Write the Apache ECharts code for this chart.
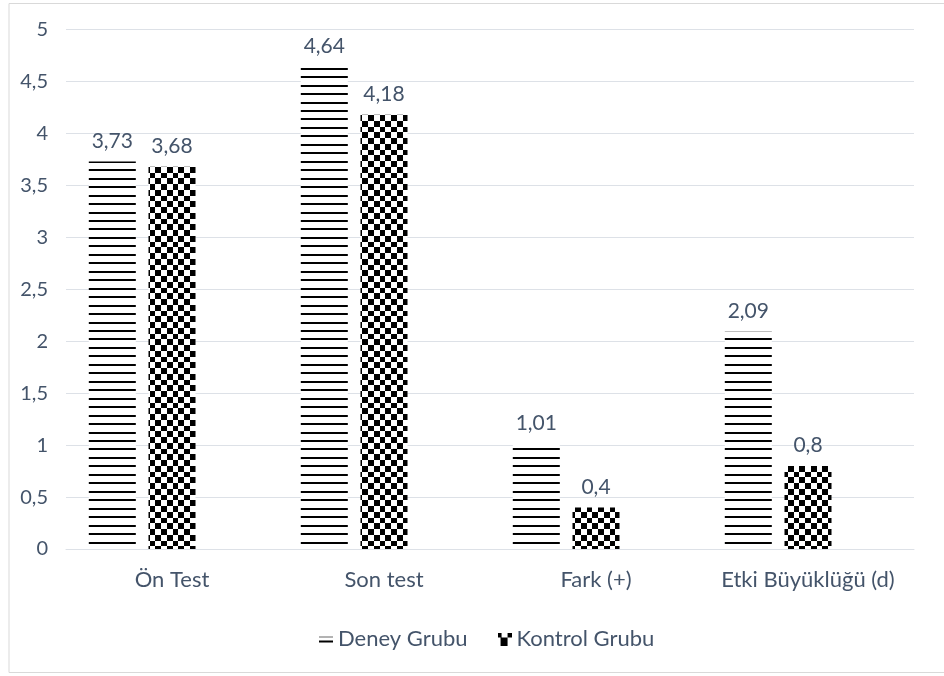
<!DOCTYPE html>
<html>
<head>
<meta charset="utf-8">
<script src="https://cdn.jsdelivr.net/npm/echarts@6/dist/echarts.min.js"></script>
<style>
  html, body { margin: 0; padding: 0; background: #fff; }
  #chart { width: 944px; height: 676px; }
</style>
</head>
<body>
<div id="chart"></div>
<script>
// Categories and group means
const categories = ['Ön Test', 'Son test', 'Fark (+)', 'Etki Büyüklüğü (d)'];
const deneyValues = [3.73, 4.64, 1.01, 2.09];
const kontrolValues = [3.68, 4.18, 0.4, 0.8];
const seriesNames = ['Deney Grubu', 'Kontrol Grubu'];
const yTicks = { min: 0, max: 5, step: 0.5 };

const TEXT = '#44546a';
const GRID = '#dde1e7';
const FONT = 'Lato, "Open Sans", sans-serif';

// Horizontal-stripe fill
function stripeCanvas() {
  const period = 8.47, n = 13;
  const h = Math.round(period * n);
  const c = document.createElement('canvas');
  c.width = 8; c.height = h;
  const g = c.getContext('2d');
  g.fillStyle = '#fff'; g.fillRect(0, 0, 8, h);
  g.fillStyle = '#000';
  for (let i = 0; i < n; i++) g.fillRect(0, Math.round(i * period), 8, 2);
  return c;
}
// Checkerboard fill
function checkerCanvas() {
  const cell = 5.75, n = 8;
  const s = Math.round(cell * n);
  const c = document.createElement('canvas');
  c.width = s; c.height = s;
  const g = c.getContext('2d');
  g.fillStyle = '#fff'; g.fillRect(0, 0, s, s);
  g.fillStyle = '#000';
  for (let i = 0; i < n; i++) {
    for (let j = 0; j < n; j++) {
      if ((i + j) % 2 === 0) {
        const x0 = Math.round(i * cell), x1 = Math.round((i + 1) * cell);
        const y0 = Math.round(j * cell), y1 = Math.round((j + 1) * cell);
        g.fillRect(x0, y0, x1 - x0, y1 - y0);
      }
    }
  }
  return c;
}
// Small legend glyphs
function deneyIcon() {
  const c = document.createElement('canvas');
  c.width = 14; c.height = 13;
  const g = c.getContext('2d');
  g.fillStyle = '#666'; g.fillRect(0, 4, 14, 1);
  g.fillStyle = '#000'; g.fillRect(0, 8, 14, 2);
  return 'image://' + c.toDataURL();
}
function kontrolIcon() {
  const c = document.createElement('canvas');
  c.width = 14; c.height = 13;
  const g = c.getContext('2d');
  g.fillStyle = '#000';
  g.fillRect(0, 0, 4, 5);
  g.fillRect(10, 0, 4, 5);
  g.fillRect(3, 5, 7, 8);
  return 'image://' + c.toDataURL();
}

const stripeFill = { image: stripeCanvas(), repeat: 'repeat' };
const checkerFill = { image: checkerCanvas(), repeat: 'repeat' };

const fmt = v => String(v).replace('.', ',');

const labelStyle = {
  show: true, position: 'top', distance: 10,
  color: TEXT, fontSize: 21, fontFamily: FONT,
  formatter: p => fmt(p.value)
};

const chart = echarts.init(document.getElementById('chart'), null, { renderer: 'canvas' });
chart.setOption({
  backgroundColor: '#fff',
  animation: false,
  graphic: [{
    type: 'rect', silent: true,
    shape: { x: 9, y: 3.5, width: 960, height: 669 },
    style: { fill: 'none', stroke: '#d9d9d9', lineWidth: 1 }
  }],
  grid: { left: 66, right: 30, top: 29.5, bottom: 127, containLabel: false },
  legend: {
    left: 314, top: 623,
    itemGap: 30, itemWidth: 14, itemHeight: 13,
    textStyle: { color: TEXT, fontSize: 22, fontFamily: FONT },
    data: [
      { name: seriesNames[0], icon: deneyIcon() },
      { name: seriesNames[1], icon: kontrolIcon() }
    ]
  },
  xAxis: {
    type: 'category', data: categories,
    axisLine: { lineStyle: { color: GRID } },
    axisTick: { show: false },
    axisLabel: { color: TEXT, fontSize: 22, fontFamily: FONT, margin: 20, interval: 0, hideOverlap: false }
  },
  yAxis: {
    type: 'value', min: yTicks.min, max: yTicks.max, interval: yTicks.step,
    axisLine: { show: false }, axisTick: { show: false },
    splitLine: { lineStyle: { color: GRID, width: 1 } },
    axisLabel: { color: TEXT, fontSize: 20, fontFamily: FONT, margin: 18, formatter: v => fmt(v) }
  },
  series: [
    { name: seriesNames[0], type: 'bar', data: deneyValues, barWidth: 47, barGap: '27%',
      itemStyle: { color: stripeFill }, label: labelStyle },
    { name: seriesNames[1], type: 'bar', data: kontrolValues, barWidth: 47, barGap: '27%',
      itemStyle: { color: checkerFill }, label: labelStyle },
    // empty third slot keeps the pair left of each category centre
    { name: 'bos', type: 'bar', data: ['-', '-', '-', '-'], barWidth: 47, barGap: '27%', silent: true }
  ]
});
</script>
</body>
</html>
